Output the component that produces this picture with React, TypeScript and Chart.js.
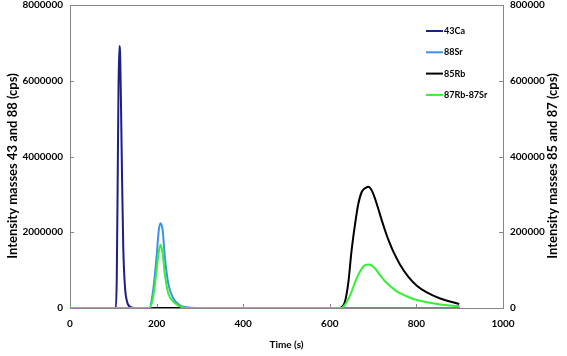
import React, { useEffect, useRef } from "react";
import { Chart, registerables } from "chart.js";

Chart.register(...registerables);

// ---- Data (time in s, intensity in cps) ----
const ca43Time = [0, 106, 108, 110, 112, 114, 116, 118, 120, 123, 127, 132, 140, 150, 900];
const ca43Values = [0, 0, 800000, 3200000, 5800000, 6920000, 6600000, 5200000, 3600000, 1600000, 550000, 160000, 25000, 0, 0];

const sr88Time = [0, 183, 192, 200, 205, 209, 214, 219, 227, 239, 254, 270, 290, 900];
const sr88Values = [0, 0, 466000, 1360000, 2050000, 2240000, 2050000, 1350000, 642000, 246000, 70000, 18000, 0, 0];

const rb85Time = [0, 620, 628, 635, 643, 650, 658, 666, 674, 684, 689, 697, 705, 713, 721, 729, 737, 747, 762, 781, 801, 824, 855, 899];
const rb85Values = [0, 0, 3000, 16600, 69000, 149000, 219000, 276000, 307000, 318000, 320000, 310000, 287000, 258000, 228000, 200000, 175000, 148000, 115000, 83000, 59000, 41000, 25000, 10600];

const m87Time = [0, 183, 192, 200, 205, 209, 214, 219, 227, 239, 254, 270, 627, 637, 647, 662, 677, 683, 689, 697, 704, 712, 720, 728, 737, 750, 762, 781, 801, 824, 855, 899];
const m87Values = [0, 0, 29000, 99500, 148000, 167000, 143000, 90000, 38000, 16000, 4400, 0, 0, 12000, 34000, 78000, 109000, 114000, 115000, 112000, 105000, 93000, 81000, 70000, 60000, 48000, 39000, 29000, 21000, 15000, 9500, 4400];

const seriesLabels = ["43Ca", "88Sr", "85Rb", "87Rb-87Sr"];
const seriesColors = ["#1b1f86", "#3d8ff0", "#000000", "#33f033"];

const xTicks = [0, 200, 400, 600, 800, 1000];
const leftTicks = [0, 2000000, 4000000, 6000000, 8000000];
const rightTicks = [0, 200000, 400000, 600000, 800000];

const leftTitle = "Intensity masses 43 and 88 (cps)";
const rightTitle = "Intensity masses 85 and 87 (cps)";
const xTitle = "Time (s)";

const FONT = "Lato, 'Open Sans', sans-serif";
const AXIS_COLOR = "#868686";

const toPoints = (t: number[], v: number[]) => t.map((x, i) => ({ x, y: v[i] }));

const decorPlugin = {
  id: "decor",
  beforeDatasetsDraw(chart: any) {
    const { ctx, chartArea } = chart;
    const { left, right, top, bottom } = chartArea;
    ctx.save();
    ctx.strokeStyle = AXIS_COLOR;
    ctx.lineWidth = 1;
    ctx.strokeRect(Math.round(left) + 0.5, Math.round(top) + 0.5, Math.round(right - left), Math.round(bottom - top));
    // inward tick marks
    const tl = 4;
    ctx.beginPath();
    const xs = chart.scales.x;
    xTicks.forEach((v) => {
      const px = Math.round(xs.getPixelForValue(v)) + 0.5;
      ctx.moveTo(px, bottom);
      ctx.lineTo(px, bottom - tl);
    });
    const ys = chart.scales.y;
    leftTicks.forEach((v) => {
      const py = Math.round(ys.getPixelForValue(v)) + 0.5;
      ctx.moveTo(left, py);
      ctx.lineTo(left + tl, py);
    });
    const y1 = chart.scales.y1;
    rightTicks.forEach((v) => {
      const py = Math.round(y1.getPixelForValue(v)) + 0.5;
      ctx.moveTo(right, py);
      ctx.lineTo(right - tl, py);
    });
    ctx.stroke();
    ctx.restore();
  },
  afterDraw(chart: any) {
    const { ctx, chartArea } = chart;
    const cy = 166;
    [
      [13, leftTitle],
      [553, rightTitle],
    ].forEach(([x, text]) => {
      ctx.save();
      ctx.fillStyle = "#000";
      ctx.font = `bold 13px ${FONT}`;
      ctx.textAlign = "center";
      ctx.textBaseline = "middle";
      ctx.translate(x as number, cy);
      ctx.rotate(-Math.PI / 2);
      ctx.fillText(text as string, 0, 0);
      ctx.restore();
    });
    // Legend inside plot area
    ctx.save();
    ctx.font = `bold 9px ${FONT}`;
    ctx.textAlign = "left";
    ctx.textBaseline = "middle";
    const lx = chartArea.right - 77;
    chart.data.datasets.forEach((ds: any, i: number) => {
      const ly = chartArea.top + 26 + i * 21.3;
      ctx.strokeStyle = ds.borderColor;
      ctx.lineWidth = 2;
      ctx.beginPath();
      ctx.moveTo(lx, ly);
      ctx.lineTo(lx + 17, ly);
      ctx.stroke();
      ctx.fillStyle = "#000";
      ctx.fillText(ds.label, lx + 18, ly);
    });
    ctx.restore();
  },
};

export default function App() {
  const ref = useRef<HTMLCanvasElement | null>(null);
  useEffect(() => {
    if (!ref.current) return;
    const datasets = [
      { label: seriesLabels[0], data: toPoints(ca43Time, ca43Values), yAxisID: "y", order: 3 },
      { label: seriesLabels[1], data: toPoints(sr88Time, sr88Values), yAxisID: "y", order: 2 },
      { label: seriesLabels[2], data: toPoints(rb85Time, rb85Values), yAxisID: "y1", order: 1 },
      { label: seriesLabels[3], data: toPoints(m87Time, m87Values), yAxisID: "y1", order: 0 },
    ].map((d, i) => ({
      ...d,
      borderColor: seriesColors[i],
      backgroundColor: seriesColors[i],
      borderWidth: 2,
      pointRadius: 0,
      fill: false,
      cubicInterpolationMode: "monotone" as const,
    }));
    const tickFont = { family: FONT, size: 10, weight: "bold" as const };
    const yFit = (w: number) => (s: any) => {
      s.width = w;
      s.paddingTop = 5;
      s.paddingBottom = 0;
    };
    const chart = new Chart(ref.current, {
      type: "line",
      data: { datasets },
      plugins: [decorPlugin],
      options: {
        responsive: false,
        animation: false,
        devicePixelRatio: 1,
        layout: { padding: { top: 0, left: 0, right: 0, bottom: 0 } },
        plugins: { legend: { display: false }, tooltip: { enabled: false } },
        scales: {
          x: {
            type: "linear",
            min: 0,
            max: 1000,
            afterBuildTicks: (s: any) => { s.ticks = xTicks.map((v) => ({ value: v })); },
            afterFit: (s: any) => { s.height = 48; s.paddingLeft = 0; s.paddingRight = 0; },
            grid: { display: false, drawTicks: false },
            border: { display: false },
            ticks: { font: tickFont, color: "#000", padding: 10, maxRotation: 0, callback: (v: any) => String(v) },
            title: { display: true, text: xTitle, color: "#000", font: { family: FONT, size: 10, weight: "bold" }, padding: { top: 0, bottom: 5 } },
          },
          y: {
            type: "linear",
            position: "left",
            min: 0,
            max: 8000000,
            afterBuildTicks: (s: any) => { s.ticks = leftTicks.map((v) => ({ value: v })); },
            afterFit: yFit(70),
            grid: { display: false, drawTicks: false },
            border: { display: false },
            ticks: { font: tickFont, color: "#000", padding: 7, callback: (v: any) => String(v) },
          },
          y1: {
            type: "linear",
            position: "right",
            min: 0,
            max: 800000,
            afterBuildTicks: (s: any) => { s.ticks = rightTicks.map((v) => ({ value: v })); },
            afterFit: yFit(64),
            grid: { display: false, drawTicks: false },
            border: { display: false },
            ticks: { font: tickFont, color: "#000", padding: 7, callback: (v: any) => String(v) },
          },
        },
      },
    } as any);
    return () => chart.destroy();
  }, []);
  return (
    <div style={{ position: "fixed", left: 0, top: 0, width: 567, height: 356, background: "#fff" }}>
      <canvas ref={ref} width={567} height={356} style={{ width: 567, height: 356 }} />
    </div>
  );
}
